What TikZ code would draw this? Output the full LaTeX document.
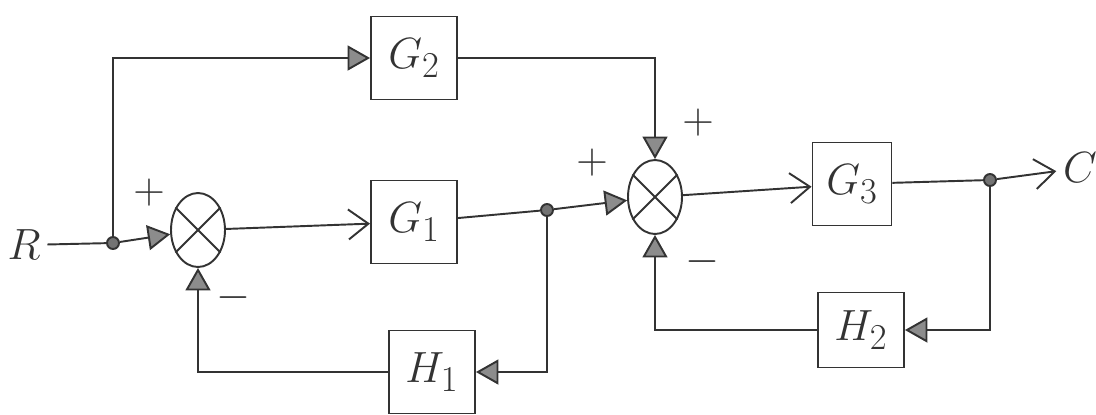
\documentclass[tikz,border=0pt]{standalone}
\usepackage{amsmath,amssymb}
\usepackage{tikz}
\usetikzlibrary{shapes.geometric, arrows.meta, positioning, calc}

\begin{document}
\begin{tikzpicture}[
    x=0.02cm, y=-0.02cm,
    line width=1.1pt, draw=black!80,
    block/.style={draw, minimum width=1.72cm, minimum height=1.66cm, font=\fontsize{30}{34}\selectfont, text=black!80},
    sumj/.style={draw, ellipse, minimum width=1.08cm, minimum height=1.48cm, inner sep=0pt},
    dot/.style={draw, circle, fill=black!55, inner sep=0pt, minimum size=0.24cm},
    arrow/.style={-{Triangle[length=0.45cm, width=0.5cm, fill=black!45]}},
    vee/.style={-{Straight Barb[length=0.4cm, width=0.6cm, line width=1.1pt]}},
    sign/.style={font=\fontsize{26}{30}\selectfont, text=black!80},
    lbl/.style={font=\fontsize{32}{36}\selectfont, text=black!80}
]
    \useasboundingbox (0,0) rectangle (1096,414);

    \node[lbl] (R) at (24,245) {$R$};
    \node[dot] (dR) at (113,243) {};
    \node[sumj] (j1) at (198,230) {};
    \draw (j1.45) -- (j1.225) (j1.135) -- (j1.315);
    \node[block] (g2) at (414,58) {$G_2$};
    \node[block] (g1) at (414,222) {$G_1$};
    \node[block] (h1) at (432,372) {$H_1$};
    \node[dot] (b1) at (547,210) {};
    \node[sumj] (j2) at (655,197) {};
    \draw (j2.45) -- (j2.225) (j2.135) -- (j2.315);
    \node[block, minimum width=1.58cm] (g3) at (852,184) {$G_3$};
    \node[block, minimum height=1.5cm] (h2) at (861,330) {$H_2$};
    \node[dot] (b2) at (990,180) {};
    \node[font=\fontsize{24}{28}\selectfont, text=black!80] (C) at (1080,168) {$C$};

    \node[sign] at (149,193) {$+$};
    \node[sign] at (233,298) {$-$};
    \node[sign] at (592,163) {$+$};
    \node[sign] at (698,123) {$+$};
    \node[sign] at (702,262) {$-$};

    \draw (R) -- (dR);
    \draw[arrow] (dR) -- (j1);
    \draw[arrow] (dR) |- (g2);
    \draw[vee] (j1) -- (g1);
    \draw (g1) -- (b1);
    \draw[arrow] (b1) -- (j2);
    \draw[arrow] (g2) -| (j2);
    \draw[vee] (j2) -- (g3);
    \draw (g3) -- (b2);
    \draw[vee] (b2) -- (C);
    \draw[arrow] (b1) |- (h1);
    \draw[arrow] (h1) -| (j1);
    \draw[arrow] (b2) |- (h2);
    \draw[arrow] (h2) -| (j2);
\end{tikzpicture}
\end{document}
